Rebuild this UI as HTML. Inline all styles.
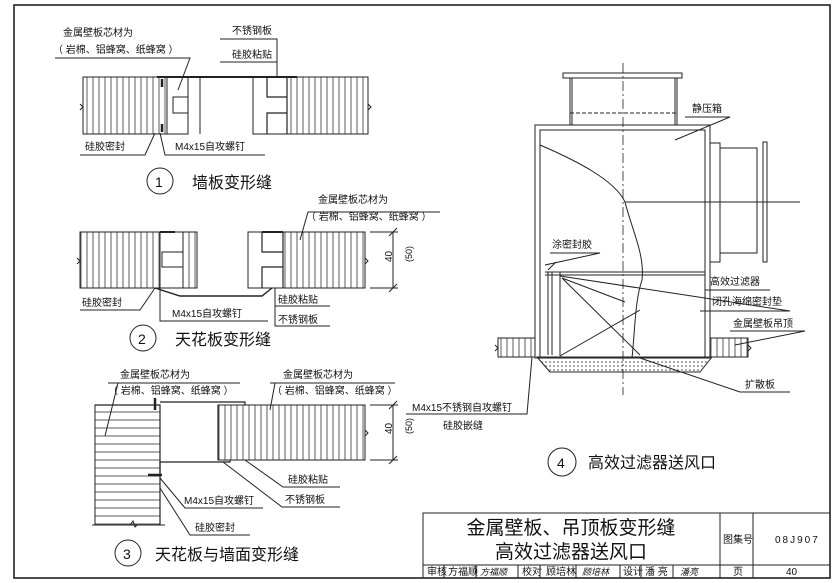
<!DOCTYPE html>
<html><head><meta charset="utf-8"><style>
html,body{margin:0;padding:0;background:#fff}
svg{display:block}
text{font-family:"Liberation Sans","Noto Sans CJK SC",sans-serif;fill:#111}
.s{font-size:10px}
.t{font-size:16px}
</style></head><body>
<svg width="839" height="583" viewBox="0 0 839 583" xmlns="http://www.w3.org/2000/svg">
<defs>
<pattern id="vh" width="6" height="10" patternUnits="userSpaceOnUse"><line x1="3" y1="0" x2="3" y2="10" stroke="#333" stroke-width="0.8"/></pattern>
<pattern id="hh" width="10" height="8" patternUnits="userSpaceOnUse"><line x1="0" y1="4" x2="10" y2="4" stroke="#333" stroke-width="0.8"/></pattern>
<pattern id="dt" width="4" height="4" patternUnits="userSpaceOnUse"><circle cx="2" cy="2" r="0.8" fill="#444"/></pattern>
</defs>
<rect x="14" y="5" width="816" height="573" fill="none" stroke="#222" stroke-width="1.6"/>
<g stroke="#222" fill="none" stroke-width="1">
<!-- Detail 1 -->
<rect x="83" y="77" width="84" height="57" fill="url(#vh)"/>
<rect x="253" y="77" width="115" height="57" fill="url(#vh)"/>
<rect x="167" y="77" width="21" height="57" fill="#fff"/>
<path d="M167 77V134M188 77V97H173V113H188V134M200 77V134"/>
<rect x="253" y="77" width="34" height="57" fill="#fff"/>
<path d="M267 77V97H287V113H267V134M287 77V134" stroke-width="1.2"/>
<path d="M157 77H297" stroke-width="2"/>
<path d="M80 104l3 3-3 3M368 104l3 3-3 3"/>
<path d="M162 79v8M162 124v8" stroke-width="2.5"/>
<path d="M55 58H190L178 90M220 39H277V77M220 62H277M80 155H145L155 133M265 155H165L160 133"/>
<circle cx="160" cy="181" r="13"/>
<!-- Detail 2 -->
<rect x="80" y="232" width="117" height="56" fill="url(#vh)"/>
<rect x="248" y="232" width="117" height="56" fill="url(#vh)"/>
<rect x="160" y="232" width="23" height="56" fill="#fff"/>
<path d="M160 232V288M183 232V252H162V267H183V288M197 232V288"/>
<rect x="248" y="232" width="35" height="56" fill="#fff"/>
<path d="M262 232V252H283V267H262V288M283 232V288" stroke-width="1.2"/>
<path d="M160 232H175M262 232H283" stroke-width="2"/>
<path d="M155 288L180 296H262L272 288" stroke-width="1.4"/>
<path d="M393 232V288M389 236l8-8M389 292l8-8M370 232H398M370 288H398"/>
<path d="M77 258l3 3-3 3M365 258l3 3-3 3"/>
<path d="M300 240L308 212H440M80 310H140L155 288M160 276V321H268M275 288V326H330M275 306H330"/>
<circle cx="143" cy="338" r="13"/>
<!-- Detail 3 -->
<rect x="95" y="405" width="65" height="120" fill="url(#hh)"/>
<rect x="218" y="405" width="147" height="55" fill="url(#vh)"/>
<path d="M95 405H160V525M218 405V460M160 402H245V405" stroke-width="1.2"/>
<path d="M160 475V462H230V460" stroke-width="1.2"/>
<path d="M155 398v12M148 475h14" stroke-width="2.5"/>
<path d="M393 405V460M389 409l8-8M389 464l8-8M370 405H398M370 460H398"/>
<path d="M92 525H165M130 525l3-4 2 6 2-2M365 430l3 3-3 3"/>
<path d="M108 383H240M118 383L105 436M270 383H395M275 383L270 410M245 460L283 487H340M223 462L282 507H340M160 478L185 508H263M160 488L190 535H250"/>
<circle cx="128" cy="553" r="13"/>
<!-- Detail 4 -->
<path d="M563 73H682V78H563Z"/>
<path d="M570 78V125M677 78V125M572 78V125M675 78V125"/>
<path d="M570 113H677" stroke-dasharray="4 2"/>
<rect x="535" y="125" width="175" height="233"/>
<rect x="540" y="130" width="165" height="228"/>
<path d="M710 143H720V262H710M720 148H757V253H720M757 148V253M763 142H767V262H763Z"/>
<path d="M623 63V395" stroke-dasharray="10 3 2 3" stroke-width="0.8"/>
<path d="M625 202H800"/>
<path d="M540 145C575 160 615 180 625 202C632 230 645 255 642 280C635 300 635 330 632 358"/>
<path d="M545 275H705M545 272H705" />
<path d="M548 270L556 262M548 272V355M552 272V355M560 272V356" />
<path d="M562 278L640 355M562 278L625 302M560 356L640 310"/>
<rect x="498" y="338" width="37" height="19" fill="url(#vh)"/>
<rect x="710" y="338" width="38" height="19" fill="url(#vh)"/>
<path d="M537 357H712L700 372H550Z" fill="url(#dt)"/>
<path d="M495 345l3 3-3 3M748 345l3 3-3 3"/>
<path d="M685 117H730L675 140M550 253H600L545 265M705 290H770M700 311H790L560 276M730 331H805L735 345M740 392H790M740 392L640 358M406 414H527L532 357"/>
<circle cx="562" cy="462" r="14"/>
<!-- Title block -->
<rect x="423" y="513" width="407" height="65"/>
<path d="M423 565H830M720 513V578M753 513V578M444 565V578M476 565V578M518 565V578M540 565V578M576 565V578M620 565V578M641 565V578M673 565V578"/>
</g>
<g class="s">
<text x="63" y="36">金属壁板芯材为</text>
<text x="53" y="53">（ 岩棉、铝蜂窝、纸蜂窝 ）</text>
<text x="232" y="34">不锈钢板</text>
<text x="232" y="58">硅胶粘贴</text>
<text x="85" y="150">硅胶密封</text>
<text x="175" y="150">M4x15自攻螺钉</text>
<text x="318" y="203">金属壁板芯材为</text>
<text x="306" y="220">（ 岩棉、铝蜂窝、纸蜂窝 ）</text>
<text x="82" y="306">硅胶密封</text>
<text x="172" y="317">M4x15自攻螺钉</text>
<text x="278" y="303">硅胶粘贴</text>
<text x="278" y="323">不锈钢板</text>
<text x="120" y="378">金属壁板芯材为</text>
<text x="108" y="394">（ 岩棉、铝蜂窝、纸蜂窝 ）</text>
<text x="283" y="378">金属壁板芯材为</text>
<text x="272" y="394">（ 岩棉、铝蜂窝、纸蜂窝 ）</text>
<text x="288" y="483">硅胶粘贴</text>
<text x="285" y="503">不锈钢板</text>
<text x="184" y="504">M4x15自攻螺钉</text>
<text x="195" y="531">硅胶密封</text>
<text x="692" y="112">静压箱</text>
<text x="552" y="248">涂密封胶</text>
<text x="710" y="285">高效过滤器</text>
<text x="712" y="305">闭孔海绵密封垫</text>
<text x="733" y="327">金属壁板吊顶</text>
<text x="745" y="388">扩散板</text>
<text x="412" y="411">M4x15不锈钢自攻螺钉</text>
<text x="443" y="429">硅胶嵌缝</text>
<text x="723" y="543">图集号</text>
<text x="775" y="543" letter-spacing="2">08J907</text>
<text x="427" y="575">审核</text><text x="448" y="575">方福顺</text>
<text x="522" y="575">校对</text><text x="546" y="575">顾培林</text>
<text x="623" y="575">设计</text><text x="645" y="575">潘 亮</text>
<text x="733" y="575">页</text><text x="786" y="575">40</text>
</g>
<g font-size="9" font-style="italic">
<text x="480" y="575">方福顺</text><text x="582" y="575">顾培林</text><text x="680" y="575">潘亮</text>
</g>
<text x="388" y="266" font-size="10" transform="rotate(-90 388 262)">40</text>
<text x="404" y="270" font-size="9" transform="rotate(-90 404 262)">(50)</text>
<text x="388" y="438" font-size="10" transform="rotate(-90 388 434)">40</text>
<text x="404" y="442" font-size="9" transform="rotate(-90 404 434)">(50)</text>
<g class="t">
<text x="155" y="187" font-size="14">1</text>
<text x="192" y="188">墙板变形缝</text>
<text x="138" y="344" font-size="14">2</text>
<text x="175" y="345">天花板变形缝</text>
<text x="123" y="559" font-size="14">3</text>
<text x="155" y="560">天花板与墙面变形缝</text>
<text x="557" y="468" font-size="14">4</text>
<text x="588" y="468">高效过滤器送风口</text>
</g>
<text x="571" y="534" font-size="19" text-anchor="middle">金属壁板、吊顶板变形缝</text>
<text x="571" y="558" font-size="19" text-anchor="middle">高效过滤器送风口</text>
</svg>
</body></html>
